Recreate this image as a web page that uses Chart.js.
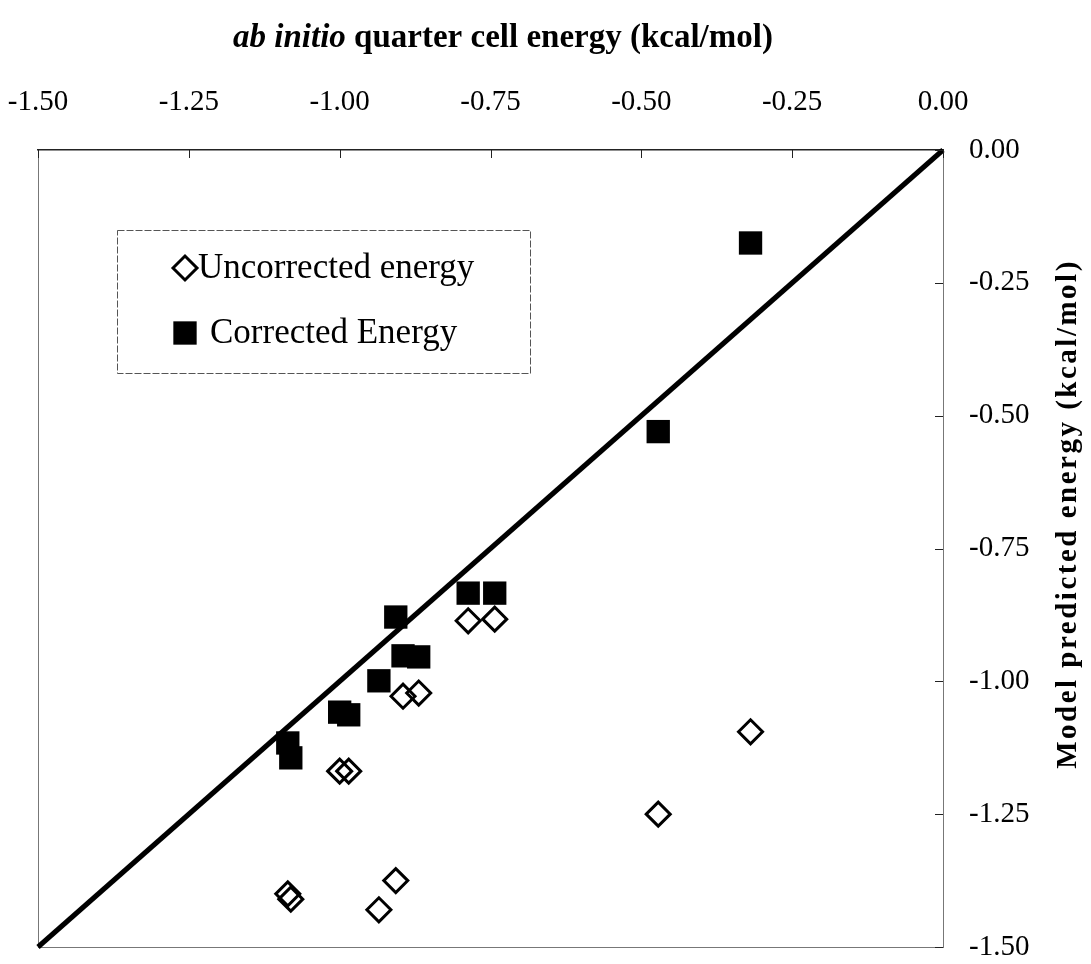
<!DOCTYPE html>
<html>
<head>
<meta charset="utf-8">
<script src="https://cdn.jsdelivr.net/npm/chart.js@4.4.1/dist/chart.umd.min.js"></script>
<style>
  html, body { margin: 0; padding: 0; background: #ffffff; }
  #wrap { width: 1091px; height: 964px; position: relative; }
</style>
</head>
<body>
<div id="wrap"><canvas id="c"></canvas></div>
<script>
// ab initio quarter cell energies (kcal/mol), one per configuration
const abInitioEnergy = [-1.086, -1.081, -1.000, -0.985, -0.935, -0.907, -0.895, -0.869, -0.787, -0.743, -0.472, -0.319];
// model predictions for the same configurations
const uncorrectedEnergy = [-1.400, -1.410, -1.169, -1.169, -1.430, -1.375, -1.028, -1.022, -0.886, -0.883, -1.250, -1.095];
const correctedEnergy   = [-1.116, -1.144, -1.058, -1.063, -0.999, -0.879, -0.952, -0.954, -0.834, -0.834, -0.530, -0.175];
// y = x reference line end points
const parityEnds = [-1.5, 0.0];
// axis range and tick spacing
const axisMin = -1.5, axisMax = 0.0, axisStep = 0.25;

const seriesNames = ['Uncorrected energy', 'Corrected Energy'];
const xTitleParts = [
  { text: 'ab initio', font: 'italic bold 33px "Liberation Serif", serif' },
  { text: ' quarter cell energy (kcal/mol)', font: 'bold 33px "Liberation Serif", serif' }
];
const yTitle = 'Model predicted energy (kcal/mol)';

const SERIF = '"Liberation Serif", "Times New Roman", serif';

const pairs = (xs, ys) => xs.map((x, i) => ({ x: x, y: ys[i] }));

// fixed box sizes so the plot area sits at a set place on the page
const fixBox = (w, h) => s => {
  if (w !== null) s.width = w;
  if (h !== null) s.height = h;
  s.paddingLeft = 0; s.paddingRight = 0; s.paddingTop = 0; s.paddingBottom = 0;
};

// Titles drawn with mixed italic / bold runs
const titlesPlugin = {
  id: 'titles',
  afterDraw(chart) {
    const ctx = chart.ctx;
    ctx.save();
    ctx.fillStyle = '#000';
    ctx.textBaseline = 'middle';
    ctx.textAlign = 'left';
    let total = 0;
    xTitleParts.forEach(p => { ctx.font = p.font; total += ctx.measureText(p.text).width; });
    let x = 503 - total / 2;
    xTitleParts.forEach(p => { ctx.font = p.font; ctx.fillText(p.text, x, 38); x += ctx.measureText(p.text).width; });

    ctx.translate(1069, 514);
    ctx.rotate(-Math.PI / 2);
    ctx.font = 'bold 29px ' + SERIF;
    ctx.letterSpacing = '2.5px';
    ctx.textAlign = 'center';
    ctx.fillText(yTitle, 0, 0);
    ctx.restore();
  }
};

// Short tick marks pointing into the plot from the top and right edges
const innerTicksPlugin = {
  id: 'innerTicks',
  afterDraw(chart) {
    const ctx = chart.ctx, area = chart.chartArea;
    const xs = chart.scales.x, ys = chart.scales.y;
    ctx.save();
    ctx.strokeStyle = '#222';
    ctx.lineWidth = 1;
    ctx.beginPath();
    xs.ticks.forEach(t => {
      const px = Math.round(xs.getPixelForValue(t.value)) + 0.5;
      ctx.moveTo(px, area.top); ctx.lineTo(px, area.top + 8);
    });
    ys.ticks.forEach(t => {
      const py = Math.round(ys.getPixelForValue(t.value)) + 0.5;
      ctx.moveTo(area.right - 8, py); ctx.lineTo(area.right, py);
    });
    ctx.stroke();
    ctx.restore();
  }
};

// Boxed legend inside the plot
const boxLegendPlugin = {
  id: 'boxLegend',
  afterDraw(chart) {
    const ctx = chart.ctx;
    const box = { l: 117, t: 230, r: 530, b: 373 };
    ctx.save();
    ctx.fillStyle = '#fff';
    ctx.fillRect(box.l, box.t, box.r - box.l, box.b - box.t);
    ctx.strokeStyle = '#555';
    ctx.lineWidth = 1;
    ctx.setLineDash([7, 2]);
    ctx.strokeRect(box.l + 0.5, box.t + 0.5, box.r - box.l, box.b - box.t);
    ctx.setLineDash([]);
    const rows = [268, 333];
    const textX = [198, 210];
    [0, 1].forEach(i => {
      const ds = chart.data.datasets[i];
      const opts = {
        pointStyle: ds.pointStyle, radius: ds.pointRadius, rotation: 0,
        borderWidth: ds.borderWidth
      };
      ctx.fillStyle = ds.backgroundColor;
      ctx.strokeStyle = ds.borderColor;
      ctx.lineWidth = ds.borderWidth;
      Chart.helpers.drawPoint(ctx, opts, 185, rows[i]);
      ctx.fillStyle = '#000';
      ctx.font = '35px ' + SERIF;
      ctx.textBaseline = 'middle';
      ctx.fillText(ds.label, textX[i], rows[i] + 1);
    });
    ctx.restore();
  }
};

const tickFont = { family: SERIF, size: 29 };

new Chart(document.getElementById('c'), {
  type: 'scatter',
  data: {
    datasets: [
      {
        label: seriesNames[0],
        data: pairs(abInitioEnergy, uncorrectedEnergy),
        pointStyle: 'rectRot',
        pointRadius: 12,
        backgroundColor: 'rgba(0,0,0,0)',
        borderColor: '#000',
        borderWidth: 3,
        clip: false
      },
      {
        label: seriesNames[1],
        data: pairs(abInitioEnergy, correctedEnergy),
        pointStyle: 'rect',
        pointRadius: 16.5,
        backgroundColor: '#000',
        borderColor: '#000',
        borderWidth: 0,
        clip: false
      },
      {
        label: 'y = x',
        data: pairs(parityEnds, parityEnds),
        showLine: true,
        pointRadius: 0,
        borderColor: '#000',
        borderWidth: 5,
        clip: false
      }
    ]
  },
  options: {
    responsive: true,
    maintainAspectRatio: false,
    animation: false,
    events: [],
    layout: { padding: 0 },
    plugins: { legend: { display: false }, tooltip: { enabled: false }, title: { display: false } },
    scales: {
      x: {
        type: 'linear', position: 'top',
        min: axisMin, max: axisMax,
        grid: { display: false, drawTicks: false },
        border: { display: true, color: '#222', width: 1.5 },
        ticks: { stepSize: axisStep, padding: 30, color: '#000', font: tickFont, maxRotation: 0,
                 callback: v => v.toFixed(2) },
        afterFit: fixBox(null, 150)
      },
      y: {
        type: 'linear', position: 'right',
        min: axisMin, max: axisMax,
        grid: { display: false, drawTicks: false },
        border: { display: true, color: '#777', width: 1, dash: [6, 2] },
        ticks: { stepSize: axisStep, padding: 26, color: '#000', font: tickFont,
                 callback: v => v.toFixed(2) },
        afterFit: fixBox(148, null)
      },
      xBottom: {
        type: 'linear', position: 'bottom', min: axisMin, max: axisMax,
        grid: { display: false, drawTicks: false },
        border: { display: true, color: '#777', width: 1, dash: [8, 3] },
        ticks: { display: false },
        afterFit: fixBox(null, 17)
      },
      yLeft: {
        type: 'linear', position: 'left', min: axisMin, max: axisMax,
        grid: { display: false, drawTicks: false },
        border: { display: true, color: '#777', width: 1, dash: [8, 3] },
        ticks: { display: false },
        afterFit: fixBox(38, null)
      }
    }
  },
  plugins: [innerTicksPlugin, boxLegendPlugin, titlesPlugin]
});
</script>
</body>
</html>
